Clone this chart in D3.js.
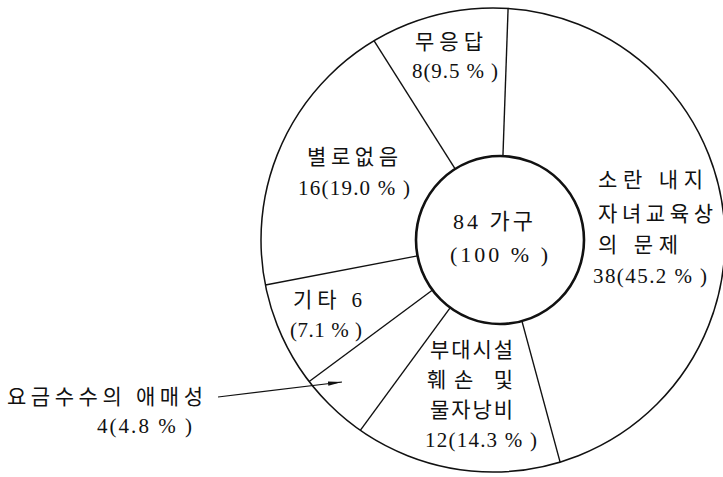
<!DOCTYPE html>
<html>
<head>
<meta charset="utf-8">
<script src="https://cdn.jsdelivr.net/npm/d3@7"></script>
<style>
  body { margin: 0; background: #fff; }
  svg text { font-family: "Liberation Serif", "Noto Sans CJK KR", serif; fill: #111; }
</style>
</head>
<body>
<svg width="723" height="477"></svg>
<script>
  // data, clockwise from 12 o'clock
  const categoryLines = [
    ['소란 내지', '자녀교육상', '의 문제'],
    ['부대시설', '훼손 및', '물자낭비'],
    ['요금수수의 애매성'],
    ['기타'],
    ['별로없음'],
    ['무응답']
  ];
  const counts = [38, 12, 4, 6, 16, 8];
  const percents = [45.2, 14.3, 4.8, 7.1, 19.0, 9.5];
  const totalCount = 84;
  const totalUnit = '가구';

  const svg = d3.select('svg');

  // hand drawn original: inner ring and outer ring are not quite concentric
  const inner = { x: 500, y: 240, r: 84 };
  const outer = { x: 493, y: 240, r: 232 };
  const angleOffset = 2 * Math.PI / 180;

  const pie = d3.pie()
    .sort(null)
    .value(d => d)
    .startAngle(angleOffset)
    .endAngle(angleOffset + 2 * Math.PI);

  const arcs = pie(counts);

  // where a ray from the inner centre meets the outer circle
  const rayEnd = a => {
    const ux = Math.sin(a), uy = -Math.cos(a);
    const dx = inner.x - outer.x, dy = inner.y - outer.y;
    const b = dx * ux + dy * uy;
    const t = -b + Math.sqrt(b * b - (dx * dx + dy * dy) + outer.r * outer.r);
    return [inner.x + t * ux, inner.y + t * uy];
  };

  svg.append('circle')
      .attr('cx', outer.x)
      .attr('cy', outer.y)
      .attr('r', outer.r)
      .attr('fill', 'none')
      .attr('stroke', '#111')
      .attr('stroke-width', 1.5);

  svg.selectAll('line.divider').data(arcs)
    .enter().append('line')
      .attr('class', 'divider')
      .attr('x1', d => inner.x + inner.r * Math.sin(d.startAngle))
      .attr('y1', d => inner.y - inner.r * Math.cos(d.startAngle))
      .attr('x2', d => rayEnd(d.startAngle)[0])
      .attr('y2', d => rayEnd(d.startAngle)[1])
      .attr('stroke', '#111')
      .attr('stroke-width', 1.4);

  svg.append('circle')
      .attr('cx', inner.x)
      .attr('cy', inner.y)
      .attr('r', inner.r)
      .attr('fill', '#fff')
      .attr('stroke', '#111')
      .attr('stroke-width', 2.6);

  // label boxes [left, width, baseline] per line, last one is the value line
  const labelBoxes = [
    [[598, 105, 187], [598, 115, 221], [598, 80, 252], [593, 114, 283]],
    [[430, 83, 357], [427, 86, 387], [430, 83, 417], [425, 112, 447]],
    [[7, 196, 404], [97, 95, 433]],
    [[293, 69, 307], [290, 72, 337]],
    [[307, 91, 164], [298, 112, 195]],
    [[415, 68, 49], [412, 86, 78]]
  ];

  const valueText = i => i === 3
    ? `(${percents[i].toFixed(1)} % )`
    : `${counts[i]}(${percents[i].toFixed(1)} % )`;

  const labelRows = [];
  categoryLines.forEach((lines, i) => {
    const texts = lines.map(t => i === 3 ? `${t} ${counts[i]}` : t);
    texts.push(valueText(i));
    texts.forEach((t, j) => {
      const [x, w, y] = labelBoxes[i][j];
      labelRows.push({ t, x, w, y });
    });
  });

  svg.selectAll('text.label').data(labelRows)
    .enter().append('text')
      .attr('class', 'label')
      .attr('x', d => d.x)
      .attr('y', d => d.y)
      .attr('font-size', 21)
      .attr('textLength', d => d.w)
      .attr('lengthAdjust', 'spacing')
      .text(d => d.t);

  // centre total
  const centre = [
    { t: `${totalCount} ${totalUnit}`, x: 453, w: 80, y: 229 },
    { t: `(${d3.sum(percents).toFixed(0)} % )`, x: 450, w: 98, y: 262 }
  ];
  svg.selectAll('text.centre').data(centre)
    .enter().append('text')
      .attr('class', 'centre')
      .attr('x', d => d.x)
      .attr('y', d => d.y)
      .attr('font-size', 22)
      .attr('textLength', d => d.w)
      .attr('lengthAdjust', 'spacing')
      .text(d => d.t);

  // pointer for the small slice
  svg.append('defs').append('marker')
      .attr('id', 'head')
      .attr('viewBox', '0 0 14 6')
      .attr('refX', 14)
      .attr('refY', 3)
      .attr('markerWidth', 14)
      .attr('markerHeight', 6)
      .attr('markerUnits', 'userSpaceOnUse')
      .attr('orient', 'auto')
    .append('path')
      .attr('d', 'M0,0.8 L14,3 L0,5.2 Z')
      .attr('fill', '#111');

  svg.append('line')
      .attr('x1', 218)
      .attr('y1', 397)
      .attr('x2', 342)
      .attr('y2', 382)
      .attr('stroke', '#111')
      .attr('stroke-width', 1.2)
      .attr('marker-end', 'url(#head)');
</script>
</body>
</html>
